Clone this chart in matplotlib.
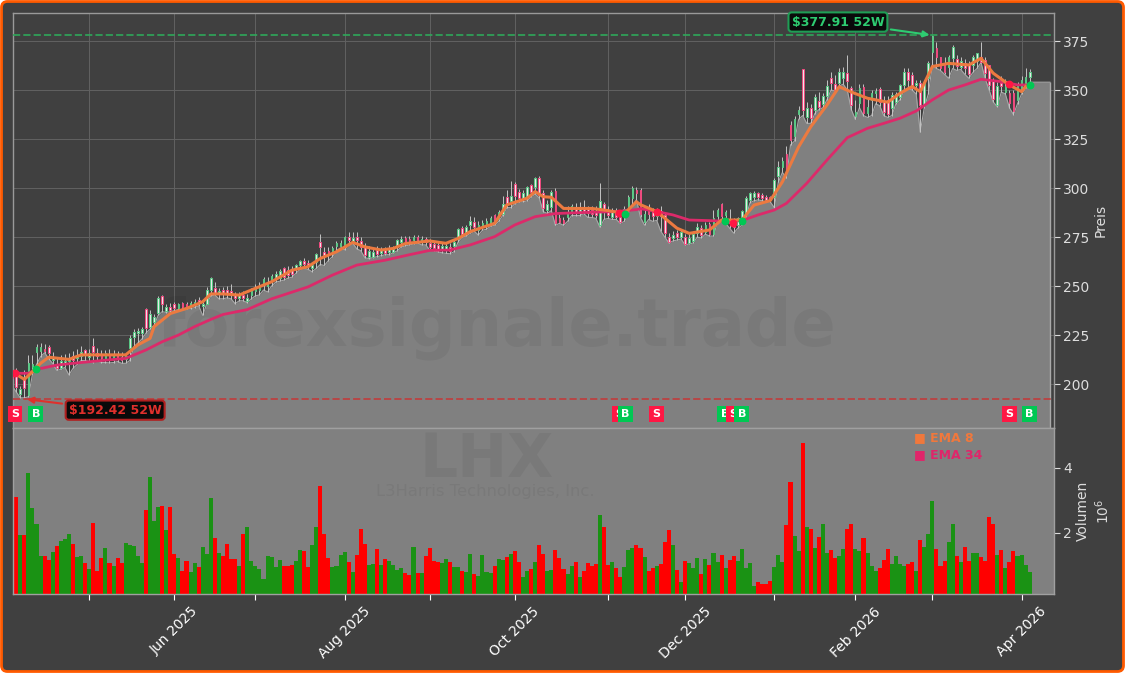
import matplotlib
matplotlib.use("Agg")
import matplotlib.pyplot as plt
from matplotlib.patches import FancyBboxPatch
from matplotlib.transforms import IdentityTransform

body_lo = [203,198.7,195,198,194.5,208.5,216.5,217,217,215.7,
212.5,208,208,210,212,212.5,213.5,214.5,215,214,
216.2,214.5,213.5,212.5,213,212.5,213,212.5,213,218.2,
224.2,226,225.9,228.4,229.3,231.9,236.1,240.7,237.5,238,
239,239,239.5,239,240,240.5,241.5,240,241,248,
246.3,246,246.2,246,246.5,243.7,244,244,242.3,245.4,
247.4,248,250.5,250,253,254,254.2,254.8,255.5,256,
258.5,260.7,261.5,260,259,262.4,270,265.8,266,267.5,
270.5,270.5,271.2,273.5,273,273.5,270,266,265,265,
266.6,267,267,267.5,267.5,270,272.5,272.6,272.5,273.5,
273.5,272.5,272.5,270,269.5,269,268.7,268.7,268,270.5,
273.8,276.6,276.9,281,280,278.6,280,280.5,282,282,
284,287,292,293.5,296,295,294.5,295.6,298,300.7,
296.5,289.6,288.8,290.5,282,282.5,282,285,288,288,
288,288,287.5,287,286.5,281,288,286.5,285,285,
282.8,285.5,288.8,294.8,297.6,287,282.9,287,286,285.5,
285.5,277,272.6,274.5,275,275.2,271.5,272,273,277,
276,277.7,276.6,276.6,285.7,285.7,286.3,282,280,281,
282,287,294,295.5,295.5,294.8,294,293.8,295.3,306.1,
310.6,308.3,324.5,326.5,337.8,339.8,336,335.5,339.8,341.5,
343,347,353.7,350,353.4,356,354.8,342.4,337,343.2,
338.1,338.1,345,348.5,344.1,339,338,340.7,344,346.6,
352.6,355,351,352.6,342.4,342.4,356.3,369.3,367,361,
359.4,362,366.2,362.5,362,361,358,363,365,364.5,
358.6,352.6,345.5,342.4,352.3,349,343.2,339.3,345,349.2,
352.6,356.9]

body_hi = [206,206.3,197.3,202.5,211,210,219,219,218,218.7,
214,210,212,212,213,214.5,215,216.5,217.5,216,
219.6,216,215,215.7,215,214.5,215.5,214,214.5,223.3,
226.4,227,227.9,238.1,235.6,234.4,243.7,245,239.5,239.5,
241,240.8,241.4,241,241.5,242,243,241,248,254,
248.8,247.5,248,248,247.5,245.7,245.5,245.5,244,248.3,
249.6,250.8,253.4,252,255,256.4,257.6,259,258,258.5,
260.7,262.7,263,262,260.5,266.6,272.3,267.5,268,269.2,
272,272,275,275,274.5,275,273,270,268,267.5,
268.3,269,268.5,269.5,269,273.4,274,274.6,274,275,
275,274,274,272,271.5,271,270.5,270.5,270,272.5,
279,279.4,280.3,283,282.9,281.2,282,283,284.5,286.3,
288,292,295.5,296,302,298,297.5,300.7,301.5,305,
305,297.3,292,298,298.7,284.5,283.5,288,291,290,
290,289.5,289.5,289,288.5,293.6,292,289,288.7,288.5,
285.4,289.5,295.6,299.8,299,299,287,289,288,288.5,
288.5,286.2,275,276,277,277.7,275.2,274.5,276.5,280,
279.5,281,281.7,284.5,289,291.9,287.6,283.7,282.5,284.5,
288.5,294.7,297.3,297.5,297.3,296.5,295.5,295.2,304,310.6,
313.8,317.2,332.2,335,339.8,360.5,340.6,340.6,346.5,344.4,
347,352,356,353,359.4,359.4,358.8,350.9,338.7,350.9,
351.4,341.2,348.7,349.7,350.4,344,345,347.5,348,352.6,
359.4,359,357.5,353.4,353.4,354.3,363.6,377.8,371.6,367,
364,367,372,366,365,364,363.5,367,368.7,367,
365.3,362.8,355.1,352.3,353.8,352,348.3,348.3,352.6,355,
356.8,359]

low = [199,196,193,193,193.5,205,210,214,216,213,
210.5,207,207.5,208.5,204.7,208,210,212,212,211.5,
211,212,211,211,210.8,211,211.5,210.6,210.6,212,
219,221,223,226,228,230,235,237,236.5,237,
237.5,238,238,238.5,238.5,239,240,235,241,245,
245.5,243.5,243.5,244,243.5,241,242.5,242.5,241.5,243.5,
245,245.5,248,247,250,252,252.5,253,254,254.5,
256.5,258.5,259,258.5,257.3,259,261,260.5,263,265,
268,269.5,268.5,271,272,269,268,264.5,264,264.5,
265,265.5,266,266,267,268,270,270.5,271,271.5,
272,271,271,268.4,268,267.5,267,266.7,266.5,267.5,
272.5,275,275.5,277,278,276,278.5,279,280.5,281,
283,286,290,290,292,293,293,293.5,295.5,297,
295,288,287,288.5,281,282,281,283,286,286,
286,287,285,285,284.5,280,284,284.5,284,284,
282,283,287,291,294,285,281,284,283,283.5,
278,275,272,273,273.5,274,271,271.5,272,275,
274.5,276.5,275.5,275.5,283,283,282,279.5,277,279.5,
281,285,292.5,293.5,294,293.5,293,293,290,303,
308,305,322,324,335,337,333,333,338,340,
341,345,350,349.5,352,353,350,340,335,341,
337,336,337,343,342,337,336,337,343,345,
350,351,350,348,328.5,341,348,363,361,360,
358,356,361,360,360.5,358,356,359,361,364,
356,350,344,341.5,349,348,341,337.5,343,348,
351,354]

high = [207,208,199,207,215,215,220.5,221,220.5,220,
216.5,214,215,215.5,216,217,218,219.5,218,218,
223.3,218.5,217.5,217.4,218,217.5,217,216.5,216,225,
228,228.5,229,239,238,236,245,245.5,241,241.5,
242,241.5,242,242,242.5,243.5,244.5,243,249.5,254.8,
252,249,249.5,250,251.3,247,247,247.5,246,249,
251,252,254.5,254.5,256,257.5,258.5,259.5,260,260,
261.5,263.5,264.5,263.5,262,267,276.8,270,270,270.5,
273,273.5,275.5,277.5,277.5,277.5,275,272,270.5,269,
270.5,270,270,271,270.5,274,275.5,275.5,275.5,276,
276,275.5,275,274,273,272.5,272,272,272,273.5,
279.5,280.5,281,285.5,285,283,283.5,284.5,286,287,
289,296,299,303.8,303,299.5,299,301,302,305.5,
306,299,294,299,300,287,285,291,292,292.5,
293,294,291,291,291,302.7,293,291,290,290,
287.5,291,296.5,301,300.5,300,290,292,290,290,
291,287.5,277,278,278.5,279,276.5,276.5,278,282,
281,282.5,282.5,289,290,292.5,289,289.5,284.5,285,
289,296,298,298.5,298,297.5,296.5,296,305,314,
316,321.5,334,337,342,360.5,344,343,348,349,
348.5,355,359,357.5,361,362,368,352,345,353,
353,346,350,351,351.5,347,347,349,349,353,
361,361,359,355,355,355,365,378,374.5,367,
367,368,373,368,367,366,365,368,369,374.7,
367,363,356,354,357,355.5,350,350,354,357,
361,360.8]

volume = [1.32,3.09,1.93,1.93,3.83,2.75,2.26,1.28,1.28,1.16,
1.40,1.59,1.75,1.81,1.96,1.65,1.25,1.28,1.07,0.88,
2.30,0.82,1.22,1.53,1.07,0.98,1.22,1.07,1.68,1.62,
1.59,1.28,1.07,2.70,3.72,2.36,2.79,2.82,2.08,2.79,
1.35,1.22,0.82,1.13,0.79,1.07,0.95,1.56,1.35,3.07,
1.84,1.38,1.28,1.65,1.19,1.19,0.98,1.96,2.18,1.13,
0.98,0.88,0.58,1.28,1.25,0.95,1.16,0.98,0.98,1.01,
1.13,1.47,1.44,0.95,1.62,2.18,3.44,1.96,1.22,0.95,
0.98,1.32,1.41,1.10,0.79,1.32,2.11,1.65,1.01,1.04,
1.50,1.01,1.19,1.13,1.01,0.85,0.91,0.76,0.70,1.56,
0.76,0.76,1.28,1.53,1.13,1.10,1.07,1.19,1.10,0.95,
0.95,0.82,0.79,1.35,0.73,0.67,1.32,0.79,0.76,0.98,
1.19,1.16,1.25,1.35,1.44,1.10,0.64,0.82,0.88,1.10,
1.62,1.35,0.82,0.85,1.47,1.22,0.88,0.73,0.98,1.10,
0.64,0.82,1.07,0.98,1.04,2.55,2.18,1.01,1.10,0.91,
0.64,0.95,1.47,1.53,1.62,1.53,1.25,0.82,0.91,0.98,
1.04,1.71,2.08,1.62,0.85,0.48,1.13,1.07,0.91,1.22,
0.73,1.19,1.01,1.38,1.10,1.32,0.91,1.16,1.28,1.13,
1.50,0.91,1.07,0.36,0.48,0.42,0.42,0.51,0.95,1.32,
1.10,2.24,3.56,1.90,1.44,4.76,2.18,2.11,1.53,1.87,
2.27,1.38,1.47,1.22,1.28,1.50,2.11,2.27,1.50,1.44,
1.84,1.38,0.98,0.82,0.91,1.16,1.50,1.04,1.28,1.04,
0.98,1.04,1.10,0.82,1.78,1.56,1.96,2.98,1.50,0.98,
1.13,1.71,2.27,1.28,1.10,1.56,1.13,1.38,1.38,1.25,
1.13,2.48,2.27,1.32,1.47,0.91,1.10,1.44,1.28,1.32,
1.01,0.79]

direction = ("RRGRGGGGRR" "GRGGGRGGRG" "RRRGRGRRGG" "GGGRGGGRGR" "RGRRGGRGGG"
             "RGRRRRGRGG" "GGGGGGGRRR" "GGRRGGRRRG" "GGGRGRRRGG" "RGRGGGGRRG"
             "RGRRRRGGRG" "GRGGRGGGGR" "GGRGRRGGRG" "RRGGRRRGGR" "GRRRRGRRGR"
             "RGGGRRGRRG" "RRRGRGRGGG" "RGRGGRGRRG" "GGGGRRRRGG" "GRRGGRGRGR"
             "GGRRGGRRGG" "RGGGRRRGGG" "GRRGRGGGRR" "RGGRGRRGGR" "RRRGRGRRGG" "GG")

ema8_x = [0,3,5,7,9,14,17,22,28,31,34,35,39,43,47,49,52,56,59,64,69,73,76,80,84,87,
          91,94,97,103,107,110,113,119,122,127,129,131,133,136,143,147,151,154,155,
          159,164,167,172,175,180,183,187,190,194,197,201,204,207,211,216,219,222,224,
          227,231,236,239,242,246,249,250]
ema8_y = [206.3,202.4,206.3,210.6,213.7,212.6,214.9,214.9,214.9,220,223.3,229.3,236,238.6,
          242,246,246,245.4,248,252.2,258.1,259.9,264.1,267.5,272.3,270,
          268.4,269.2,271.7,273,271.8,274.3,277.8,282,291.4,294.8,298.2,295.6,295.3,289.6,
          289.6,288.5,287,293,291.5,288,279.5,276.9,278.6,283.7,283.7,291.3,293.6,303.2,321,
          331.3,342.4,351.7,349,345.8,343.8,348.3,351.8,349.2,362,363.6,362.8,366.2,358.6,352.6,
          349.2,351.8]

ema34_x = [0,2,4,6,11,16,22,28,33,37,41,45,49,52,58,64,73,79,85,92,98,103,108,113,119,124,
           129,134,142,149,154,155,159,163,167,175,180,184,188,191,196,201,206,211,215,219,
           223,227,231,235,239,244,248,251]
ema34_y = [206,205.5,205.5,207.5,209.7,210.8,212,213.1,217.4,221.6,225,229.3,233,235.5,238,
           243.5,249.6,255.6,260.7,263.2,266,268.2,268.4,271,275.2,281.2,285.4,287,287.6,288,
           289,289.5,288,286.3,283.7,283.2,283.4,286.3,288.8,292.2,302.4,314.3,325.7,330.5,333,
           335.6,339.3,345,350,352.6,355.5,354.3,352.6,352.6]

sell_x = [0.7, 149.7, 159, 177.9, 246]
sell_y = [205.8, 287.2, 288, 282.4, 352.9]
buy_x = [5.8, 151.2, 175.8, 180, 251]
buy_y = [207.6, 287, 283.3, 283, 352.5]
signal_order = [("S",0.7),("B",5.8),("S",149.7),("B",151.2),("S",159),("B",175.8),("S",177.9),("B",180),("S",246),("B",251)]

tick_pos = [19,40,60,82,103,124,147,166,188,208,227,249]
tick_lab = ["","Jun 2025","","Aug 2025","","Oct 2025","","Dec 2025","","Feb 2026","","Apr 2026"]
price_ticks = [200,225,250,275,300,325,350,375]
vol_ticks = [2,4]
high_52w = 377.91
low_52w = 192.42

BG = "#404040"; FILL = "#808080"; TXT = "#dddddd"
W, H = 1125, 673
fig = plt.figure(figsize=(W/100, H/100), dpi=100, facecolor="white")
fig.add_artist(FancyBboxPatch((1.5,1.5), W-3, H-3, boxstyle="round,pad=0,rounding_size=6",
                              fc=BG, ec="#ff5a00", lw=2.0, transform=IdentityTransform(), zorder=-5))

def make_axes(top, bottom):
    return fig.add_axes([13/W, 1-bottom/H, (1054-13)/W, (bottom-top)/H])

ax = make_axes(13, 428)
av = make_axes(428, 594)
x = list(range(len(low)))

ax.set_facecolor(BG)
ax.set_xlim(0.2, 257); ax.set_ylim(177.6, 389.3)
ax.grid(True, color="#626262", lw=0.7, zorder=0)
ax.set_axisbelow(True)
fill_x = x + [256]
fill_y = low + [low[-1]]
ax.fill_between(fill_x, fill_y, 170, color=FILL, lw=0, zorder=1)
ax.plot(fill_x, fill_y, color="#a8a8a8", lw=0.8, zorder=1.2)
ax.vlines(256, 177.6, low[-1], color="#aaaaaa", lw=1, zorder=1.2)

ax.text(0.4645, 0.2415, "forexsignale.trade", transform=ax.transAxes, ha="center", va="center",
        fontsize=47, fontweight="bold", color="black", alpha=0.05, zorder=1.5)

ax.vlines(x, low, high, color="#c4c4c4", lw=0.7, zorder=2)
for i in x:
    up = direction[i] == "G"
    ax.bar(i, body_hi[i]-body_lo[i], bottom=body_lo[i], width=0.42, zorder=3,
           facecolor="#e9e6e8", edgecolor="#58c884" if up else "#f0487e", lw=0.7)

ax.axhline(high_52w, color="#2fa85a", ls="--", lw=1.4, alpha=0.85, zorder=4)
ax.axhline(low_52w, color="#c03c3c", ls="--", lw=1.4, alpha=0.85, zorder=4)
ax.plot(ema34_x, ema34_y, color="#dc2a6a", lw=2, solid_joinstyle="round", zorder=5)
ax.plot(ema8_x, ema8_y, color="#ec7a40", lw=2.2, solid_joinstyle="round", zorder=6)
ax.scatter(sell_x, sell_y, s=32, color="#ff1744", lw=0, zorder=7)
ax.scatter(buy_x, buy_y, s=32, color="#00c853", lw=0, zorder=7)

for kind, xp in signal_order:
    ax.text(xp, 184.7, kind, color="white", fontsize=8, fontweight="bold", ha="center", va="center", zorder=8,
            bbox=dict(boxstyle="square,pad=0.3", fc="#00c853" if kind == "B" else "#ff1744", ec="none"))

ax.annotate("$377.91 52W".replace("$", r"\$"), xy=(227, high_52w), xytext=(203.7, 384.7),
            color="#2ecc71", fontsize=9, fontweight="bold", ha="center", va="center", zorder=9,
            bbox=dict(boxstyle="round,pad=0.25", fc="#0a0a0a", ec="#1f9d55", lw=1.5),
            arrowprops=dict(arrowstyle="-|>", color="#2ecc71", lw=1.5))
ax.annotate("$192.42 52W".replace("$", r"\$"), xy=(3, low_52w), xytext=(25.4, 186.7),
            color="#e0302c", fontsize=9, fontweight="bold", ha="center", va="center", zorder=9,
            bbox=dict(boxstyle="round,pad=0.25", fc="#0a0a0a", ec="#b02020", lw=1.5),
            arrowprops=dict(arrowstyle="-|>", color="#e0302c", lw=1.5))

ax.yaxis.tick_right(); ax.yaxis.set_label_position("right")
ax.set_yticks(price_ticks)
ax.set_ylabel("Preis", color=TXT, fontsize=10, labelpad=3)
ax.set_xticks(tick_pos); ax.tick_params(axis="x", length=0, labelbottom=False)
ax.tick_params(axis="y", colors=TXT, labelsize=10, length=4, pad=2.5)
for s in ax.spines.values():
    s.set_color("#9a9a9a"); s.set_linewidth(1)

av.set_facecolor(FILL)
av.set_xlim(0.2, 257); av.set_ylim(0.11, 5.22)
colors = ["#ff0000" if d == "R" else "#1a9214" for d in direction]
av.bar(x, volume, width=1.0, color=colors, lw=0, zorder=2)
av.yaxis.tick_right(); av.yaxis.set_label_position("right")
av.set_yticks(vol_ticks); av.set_yticklabels(["2","4"])
av.set_ylabel("Volumen\n$10^{6}$", color=TXT, fontsize=10, labelpad=3)
av.set_xticks(tick_pos); av.set_xticklabels(tick_lab, rotation=45, ha="center", fontsize=10, color=TXT)
av.tick_params(axis="x", colors="white", length=4)
av.tick_params(axis="y", colors=TXT, labelsize=10, length=4, pad=2.5)
for s in av.spines.values():
    s.set_color("#a0a0a0"); s.set_linewidth(1)

av.text(0.4545, 0.805, "LHX", transform=av.transAxes, ha="center", va="center", fontsize=43,
        fontweight="bold", color="black", alpha=0.05, zorder=1)
av.text(0.4535, 0.615, "L3Harris Technologies, Inc.", transform=av.transAxes, ha="center", va="center",
        fontsize=11.8, color="black", alpha=0.05, zorder=1)
av.text(0.8655, 0.94, "■ EMA 8", transform=av.transAxes, ha="left", va="center", fontsize=9,
        fontweight="bold", color="#f0783c", zorder=5)
av.text(0.8655, 0.84, "■ EMA 34", transform=av.transAxes, ha="left", va="center", fontsize=9,
        fontweight="bold", color="#e0256a", zorder=5)

fig.savefig("out.png", dpi=100, facecolor=fig.get_facecolor())
